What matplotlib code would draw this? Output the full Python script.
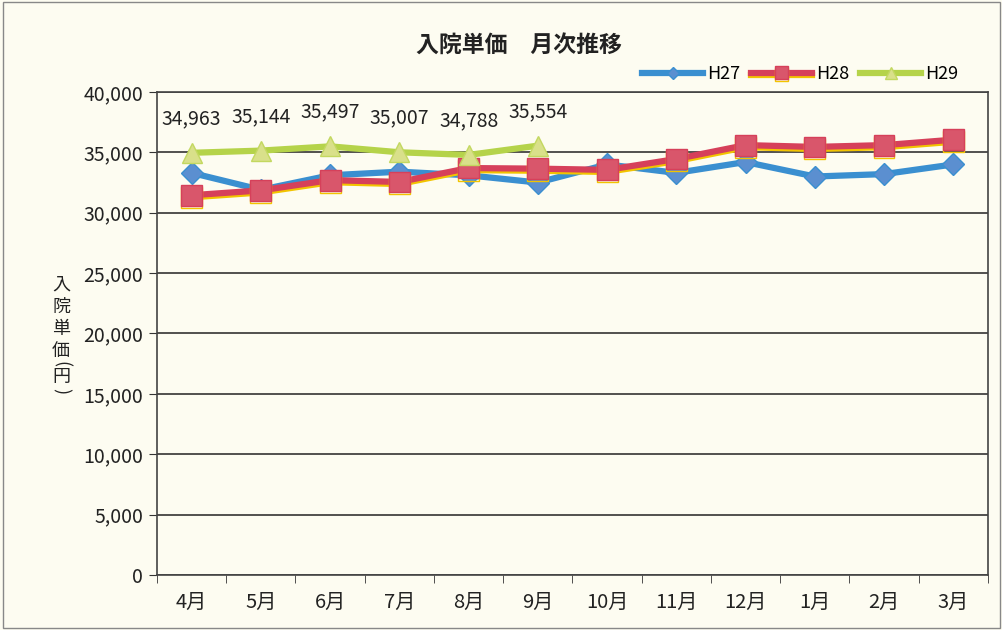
import matplotlib.pyplot as plt
import matplotlib.patheffects as pe

months = ["4月", "5月", "6月", "7月", "8月", "9月", "10月", "11月", "12月", "1月", "2月", "3月"]
h27 = [33300, 31900, 33100, 33400, 33100, 32500, 34000, 33300, 34200, 33000, 33200, 34000]
h28 = [31450, 31850, 32700, 32550, 33700, 33650, 33550, 34450, 35600, 35450, 35600, 36050]
h29 = [34963, 35144, 35497, 35007, 34788, 35554]
yticks = list(range(0, 40001, 5000))

plt.rcParams['font.family'] = ['Noto Sans CJK JP', 'DejaVu Sans']
bg = "#fdfcf1"

fig = plt.figure(figsize=(10.03, 6.3), dpi=100, facecolor=bg)
ax = fig.add_axes([0.1565, 0.0873, 0.8285, 0.7667], facecolor=bg)

x = list(range(len(months)))

ax.plot(x, h27, color="#3a8fd0", lw=4.5, marker="D", ms=11,
        markerfacecolor="#5b8fd0", markeredgecolor="#3a8fd0", label="H27", zorder=3)
ax.plot(x, h28, color="#d6405a", lw=4.5, marker="s", ms=15,
        markerfacecolor="#d9566b", markeredgecolor="#d6405a", label="H28", zorder=4,
        path_effects=[pe.SimpleLineShadow(offset=(0, -1.5), shadow_color="#f2c400", alpha=1),
                      pe.Normal()])
ax.plot(x[:len(h29)], h29, color="#b5d34a", lw=4.5, marker="^", ms=15,
        markerfacecolor="#d9e08a", markeredgecolor="#c3d860", label="H29", zorder=5)

for i, v in enumerate(h29):
    ax.annotate(f"{v:,}", (i, v), xytext=(0, 17), textcoords="offset points",
                ha="center", va="bottom", fontsize=14, color="#222222")

ax.set_xlim(-0.5, len(months) - 0.5)
ax.set_ylim(0, 40000)
ax.set_yticks(yticks)
ax.set_yticklabels([f"{v:,}" for v in yticks], fontsize=14, color="#222222")
ax.set_xticks(x)
ax.set_xticklabels(months, fontsize=14.5, color="#222222")
ax.tick_params(axis="x", length=0, pad=12)
ax.set_xticks([i - 0.5 for i in range(len(months) + 1)], minor=True)
ax.tick_params(axis="x", which="minor", length=6, direction="out", color="#333333")
ax.tick_params(axis="y", length=6, direction="out", color="#333333", pad=4)

ax.yaxis.grid(True, color="#222222", lw=1.1)
ax.set_axisbelow(True)
for s in ax.spines.values():
    s.set_color("#444444")
    s.set_linewidth(1.2)

fig.text(0.517, 0.928, "入院単価　月次推移", ha="center", va="center",
         fontsize=16.5, fontweight="bold", color="#222222")

# vertical axis title: stacked characters, brackets turned sideways
ylab = [("入", 0, 285), ("院", 0, 307), ("単", 0, 329), ("価", 0, 351),
        ("(", -90, 364), ("円", 0, 377), (")", -90, 391)]
for ch, rot, py in ylab:
    fig.text(0.061, 1 - py / 630, ch, ha="center", va="center", rotation=rot,
             fontsize=13, color="#222222")

ax.legend(loc="lower right", bbox_to_anchor=(0.975, 1.0), ncol=3, frameon=False,
          fontsize=13, handlelength=3.4, columnspacing=0.6, handletextpad=0.2,
          markerscale=0.6, borderaxespad=0.1)

fig.patches.append(plt.Rectangle((0.003, 0.003), 0.994, 0.994, transform=fig.transFigure,
                                 fill=False, edgecolor="#888888", lw=1))

fig.savefig("out.png", dpi=100, facecolor=bg)
